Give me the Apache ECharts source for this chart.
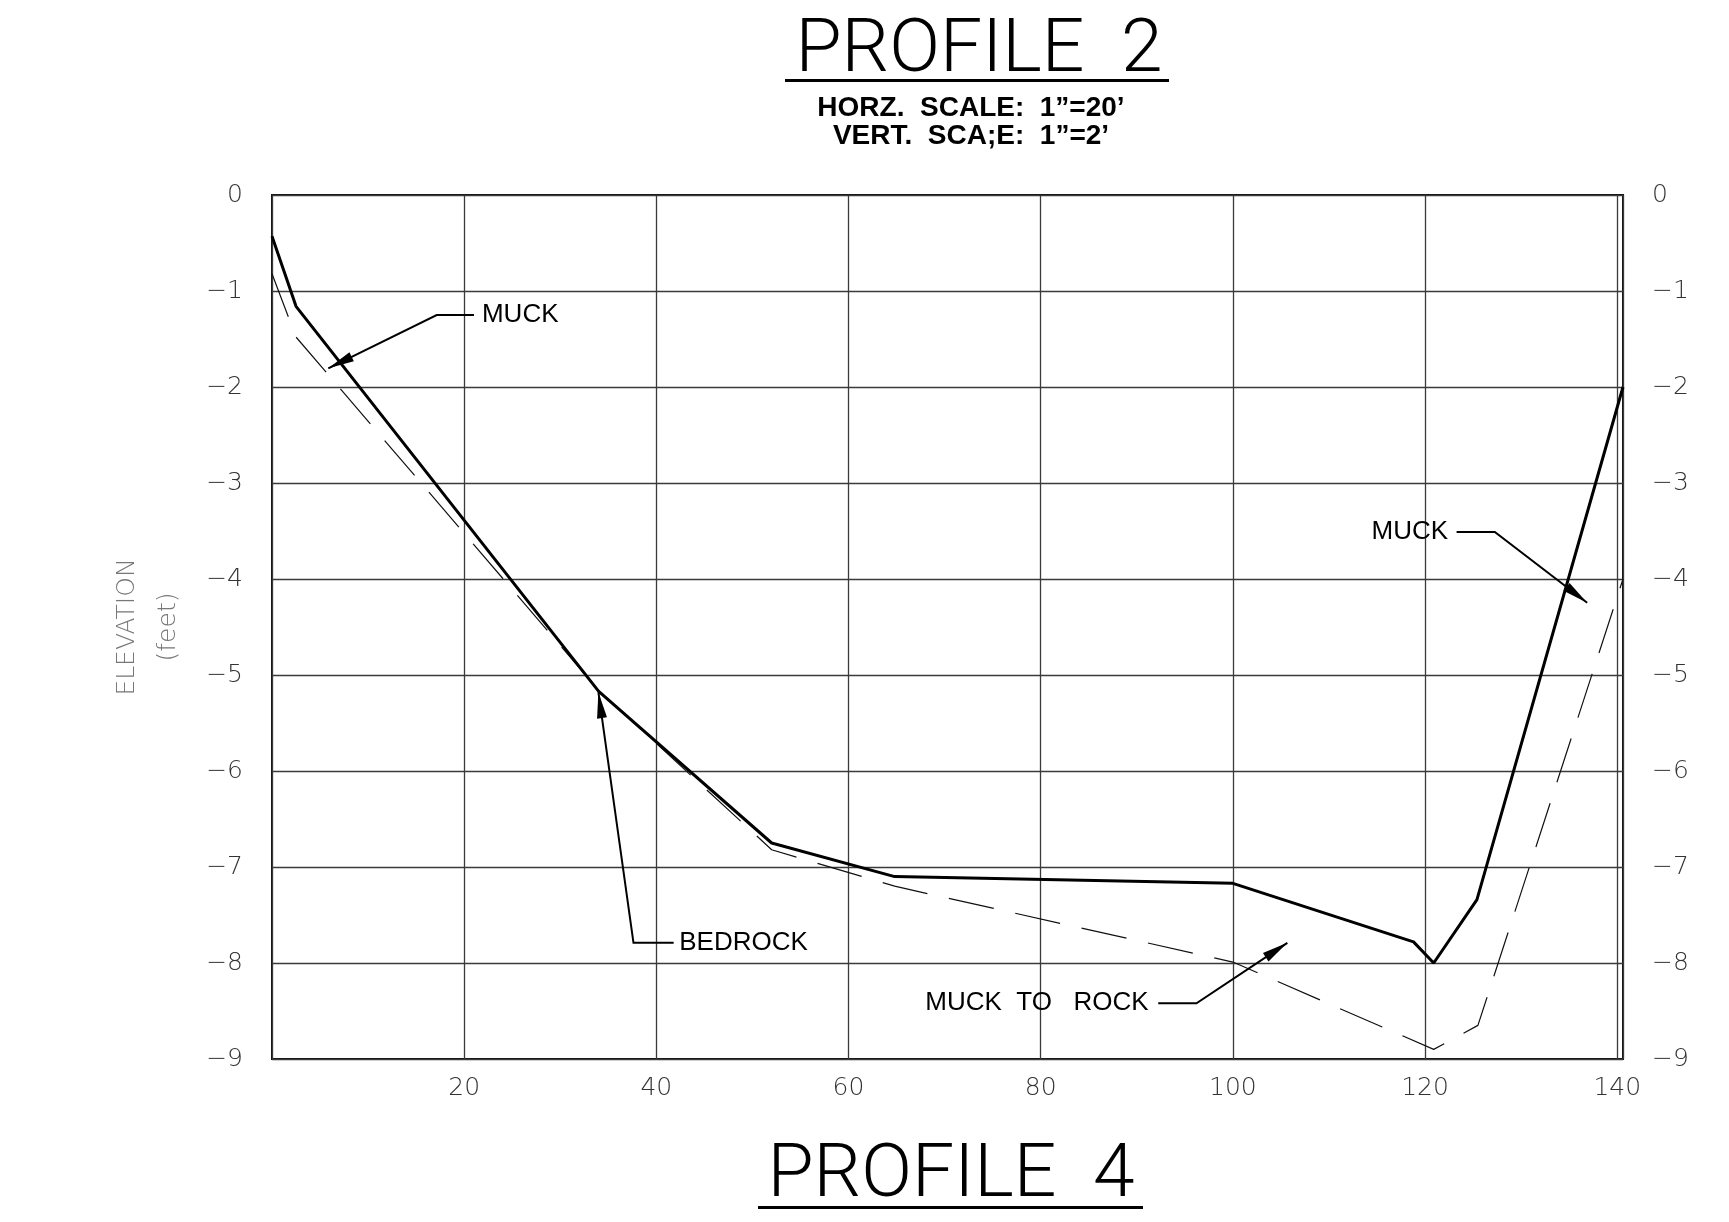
<!DOCTYPE html>
<html>
<head>
<meta charset="utf-8">
<script src="https://cdn.jsdelivr.net/npm/echarts@6/dist/echarts.min.js"></script>
<style>
  html, body { margin: 0; padding: 0; background: #ffffff; }
  #chart { width: 1729px; height: 1222px; }
</style>
</head>
<body>
<div id="chart"></div>
<script>
// Profile 2 — stations along the section (ft) and elevations (ft)
const muckStations   = [0, 2.5, 34, 52, 64.8, 100, 118.8, 120.9, 125.4, 140.6];
const muckElevations = [-0.43, -1.16, -5.17, -6.75, -7.10, -7.17, -7.78, -8.0, -7.34, -2.0];

const rockStations   = [0, 2.5, 34, 52, 64.8, 100, 120.9, 125.5, 140.6];
const rockElevations = [-0.82, -1.48, -5.16, -6.82, -7.20, -7.99, -8.9, -8.65, -4.0];

const xTickLabels = [20, 40, 60, 80, 100, 120, 140];
const yTickLabels = [0, -1, -2, -3, -4, -5, -6, -7, -8, -9];

// Callout labels: text anchor, leader polyline ending at the arrow tip (data units)
const calloutTexts   = ['MUCK', 'MUCK', 'BEDROCK', 'MUCK  TO   ROCK'];
const calloutAlign   = ['left', 'right', 'left', 'right'];
const calloutAnchors = [[21.85, -1.25], [122.4, -3.51], [42.38, -7.79], [91.24, -8.42]];
const calloutLeaders = [
  [[21.02, -1.25], [17.14, -1.25], [5.86, -1.805]],
  [[123.28, -3.51], [127.26, -3.51], [136.87, -4.247]],
  [[41.8, -7.79], [37.62, -7.79], [33.97, -5.18]],
  [[92.23, -8.42], [96.21, -8.42], [105.67, -7.79]]
];

const TICK_FONT = 'DejaVu Sans';
const CAD = 'Liberation Sans';

const zip = (xs, ys) => xs.map((x, i) => [x, ys[i]]);
const yFmt = v => (yTickLabels.indexOf(v) < 0 ? '' : (v === 0 ? '0' : '\u2212' + Math.abs(v)));

const chart = echarts.init(document.getElementById('chart'), null, { renderer: 'canvas' });

const yAxisBase = {
  type: 'value', min: -9, max: 0, interval: 1,
  axisLine: { show: false }, axisTick: { show: false },
  axisLabel: { formatter: yFmt, color: '#333', fontFamily: TICK_FONT, fontWeight: 200, fontSize: 25, margin: 29 }
};

chart.setOption({
  animation: false,
  backgroundColor: '#ffffff',
  grid: { left: 272, top: 195, width: 1351, height: 864, show: true, borderColor: '#111', borderWidth: 2, containLabel: false },
  xAxis: {
    type: 'value', min: 0, max: 140.6, interval: 20,
    axisLine: { show: false }, axisTick: { show: false },
    splitLine: { show: true, lineStyle: { color: '#3a3a3a', width: 1.3 } },
    axisLabel: {
      formatter: v => (xTickLabels.indexOf(v) < 0 ? '' : String(v)),
      color: '#333', fontFamily: TICK_FONT, fontWeight: 200, fontSize: 25, margin: 17
    }
  },
  yAxis: [
    Object.assign({}, yAxisBase, {
      position: 'left',
      splitLine: { show: true, lineStyle: { color: '#3a3a3a', width: 1.3 } },
      name: 'ELEVATION\n(feet)', nameLocation: 'middle', nameRotate: 90, nameGap: 83,
      nameTextStyle: { color: '#777', fontFamily: TICK_FONT, fontWeight: 200, fontSize: 25, lineHeight: 41 }
    }),
    Object.assign({}, yAxisBase, { position: 'right', splitLine: { show: false } })
  ],
  series: [
    {
      name: 'Muck surface', type: 'line', data: zip(muckStations, muckElevations),
      symbol: 'none', lineStyle: { color: '#000', width: 3 }, z: 5
    },
    {
      name: 'Rock surface', type: 'line', data: zip(rockStations, rockElevations),
      symbol: 'none', lineStyle: { color: '#111', width: 1.2, type: [46, 22] }, z: 4
    }
  ]
});

// Leader lines, arrowheads and titles
const px = p => chart.convertToPixel({ gridIndex: 0 }, p);
const graphics = [];

calloutTexts.forEach((t, i) => {
  const pts = calloutLeaders[i].map(px);
  graphics.push({ type: 'polyline', shape: { points: pts }, style: { stroke: '#000', lineWidth: 2, fill: null }, z: 10 });
  const tip = pts[pts.length - 1], prev = pts[pts.length - 2];
  const dx = tip[0] - prev[0], dy = tip[1] - prev[1], len = Math.hypot(dx, dy);
  const ux = dx / len, uy = dy / len, L = 26, W = 5;
  const bx = tip[0] - ux * L, by = tip[1] - uy * L;
  graphics.push({
    type: 'polygon',
    shape: { points: [tip, [bx - uy * W, by + ux * W], [bx + uy * W, by - ux * W]] },
    style: { fill: '#000' }, z: 10
  });
  const a = px(calloutAnchors[i]);
  graphics.push({
    type: 'text', x: a[0], y: a[1],
    style: { text: t, fill: '#000', font: '26px "' + CAD + '"', align: calloutAlign[i], verticalAlign: 'middle' }, z: 10
  });
});

// Sheet titles
graphics.push(
  { type: 'text', x: 979, y: 52, style: { text: 'PROFILE  2', fill: '#000', font: '300 75px Roboto', align: 'center', verticalAlign: 'middle' } },
  { type: 'rect', shape: { x: 785, y: 79, width: 384, height: 3 }, style: { fill: '#000' } },
  { type: 'text', x: 971, y: 108, style: { text: 'HORZ.  SCALE:  1\u201D=20\u2019', fill: '#000', font: 'bold 28px "Liberation Sans"', align: 'center', verticalAlign: 'middle' } },
  { type: 'text', x: 971, y: 136, style: { text: 'VERT.  SCA;E:  1\u201D=2\u2019', fill: '#000', font: 'bold 28px "Liberation Sans"', align: 'center', verticalAlign: 'middle' } },
  { type: 'text', x: 951, y: 1177, style: { text: 'PROFILE  4', fill: '#000', font: '300 75px Roboto', align: 'center', verticalAlign: 'middle' } },
  { type: 'rect', shape: { x: 758, y: 1206, width: 385, height: 3 }, style: { fill: '#000' } }
);

chart.setOption({ graphic: { elements: graphics } });
</script>
</body>
</html>
